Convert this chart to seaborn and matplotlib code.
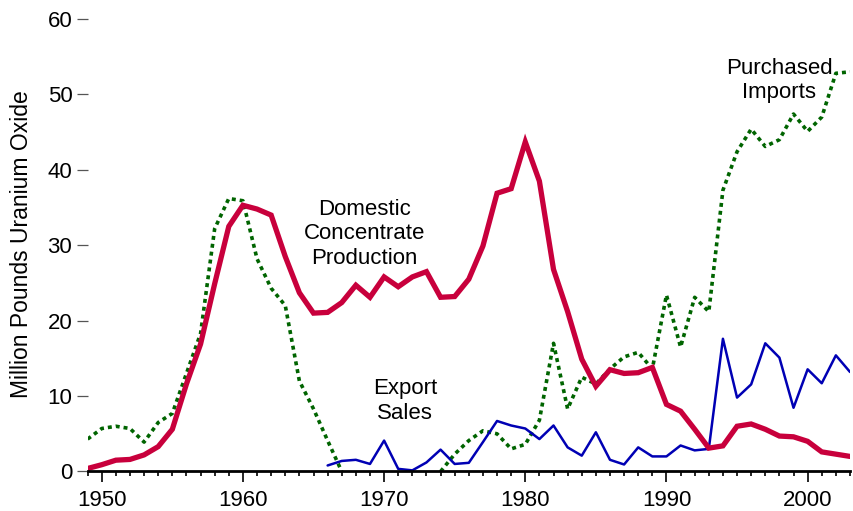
import numpy as np
import pandas as pd
import matplotlib
matplotlib.use("Agg")
import matplotlib.pyplot as plt
import seaborn as sns

sns.set_theme(style="white", rc={"text.color": "black", "axes.labelcolor": "black",
                                 "xtick.color": "black", "ytick.color": "black"})
plt.rcParams['font.family'] = ['Liberation Sans', 'DejaVu Sans']

years = list(range(1949, 2004))

# Domestic concentrate production (million lb U3O8)
production = [0.4, 0.9, 1.5, 1.6, 2.2, 3.3, 5.6, 11.6, 16.9, 24.9,
              32.5, 35.3, 34.8, 34.0, 28.5, 23.7, 21.0, 21.1, 22.4, 24.7,
              23.1, 25.8, 24.5, 25.8, 26.5, 23.1, 23.2, 25.5, 29.9, 36.9,
              37.5, 43.7, 38.5, 26.8, 21.2, 14.9, 11.3, 13.5, 13.0, 13.1,
              13.8, 8.9, 8.0, 5.6, 3.1, 3.4, 6.0, 6.3, 5.6, 4.7,
              4.6, 4.0, 2.6, 2.3, 2.0]

# Purchased imports (gap 1968-1973)
imports = [4.3, 5.7, 6.0, 5.7, 3.9, 6.5, 7.7, 13.0, 18.3, 32.2,
           36.2, 35.9, 28.2, 24.3, 22.0, 12.0, 8.3, 4.1, 0.0, None,
           None, None, None, None, None, 0.0, 2.3, 4.1, 5.4, 5.0,
           3.0, 3.6, 6.8, 17.0, 8.3, 12.5, 11.6, 13.6, 15.2, 15.8,
           13.6, 23.4, 16.5, 23.1, 21.2, 37.3, 42.4, 45.4, 43.1, 44.0,
           47.4, 45.1, 47.0, 52.8, 53.0]

# Export sales (start 1966)
exports = [None] * 17 + [0.8, 1.4, 1.55, 1.0, 4.1, 0.35, 0.15, 1.2, 2.9,
                         1.0, 1.15, 3.9, 6.7, 6.1, 5.7, 4.3, 6.1, 3.2, 2.1,
                         5.2, 1.55, 0.93, 3.2, 2.0, 2.0, 3.45, 2.8, 3.0, 17.6,
                         9.8, 11.55, 17.0, 15.1, 8.45, 13.55, 11.7, 15.4, 13.2]

df = pd.DataFrame({"Year": years, "Production": production,
                   "Imports": imports, "Exports": exports}).astype(float)
df["segment"] = np.where(df["Year"] <= 1967, 0, 1)

fig = plt.figure(figsize=(8.54, 5.11), dpi=100)
ax = fig.add_axes([0.1026, 0.0773, 0.8927, 0.8855])

sns.lineplot(data=df.dropna(subset=["Imports"]), x="Year", y="Imports",
             units="segment", estimator=None, ax=ax, color="#006400",
             lw=2.6, linestyle=(0, (1.1, 1.1)))
sns.lineplot(data=df, x="Year", y="Exports", ax=ax, color="#0000b4", lw=1.8)
sns.lineplot(data=df, x="Year", y="Production", ax=ax, color="#c8003c",
             lw=3.8, solid_joinstyle="miter")

ax.set_xlim(1949, 2003)
ax.set_ylim(0, 60)
for s in ["top", "right", "left"]:
    ax.spines[s].set_visible(False)
ax.spines["bottom"].set_color("black")
ax.spines["bottom"].set_linewidth(2)
ax.spines["bottom"].set_zorder(5)

ax.set_xticks(range(1950, 2001, 10))
ax.set_xticks(range(1949, 2004), minor=True)
ax.set_yticks(range(0, 61, 10))
ax.tick_params(axis="x", which="major", direction="out", length=8, width=1.2,
               color="black", labelsize=16, pad=5, bottom=True)
ax.tick_params(axis="x", which="minor", direction="out", length=3.8, width=1.2,
               color="black", bottom=True)
ax.tick_params(axis="y", direction="out", length=8, width=0.9, color="#555555",
               labelcolor="black", labelsize=16, pad=3, left=True)
ax.grid(False)

ax.set_xlabel("")
ax.set_ylabel("Million Pounds Uranium Oxide", fontsize=16.5)
ax.yaxis.set_label_coords(-0.0716, 0.503)

ax.text(1968.6, 31.5, "Domestic\nConcentrate\nProduction", fontsize=16,
        ha="center", va="center")
ax.text(1971.5, 9.35, "Export\nSales", fontsize=16, ha="center", va="center")
ax.text(1998.0, 51.8, "Purchased\nImports", fontsize=16, ha="center", va="center")

fig.savefig("out.png", dpi=100)
